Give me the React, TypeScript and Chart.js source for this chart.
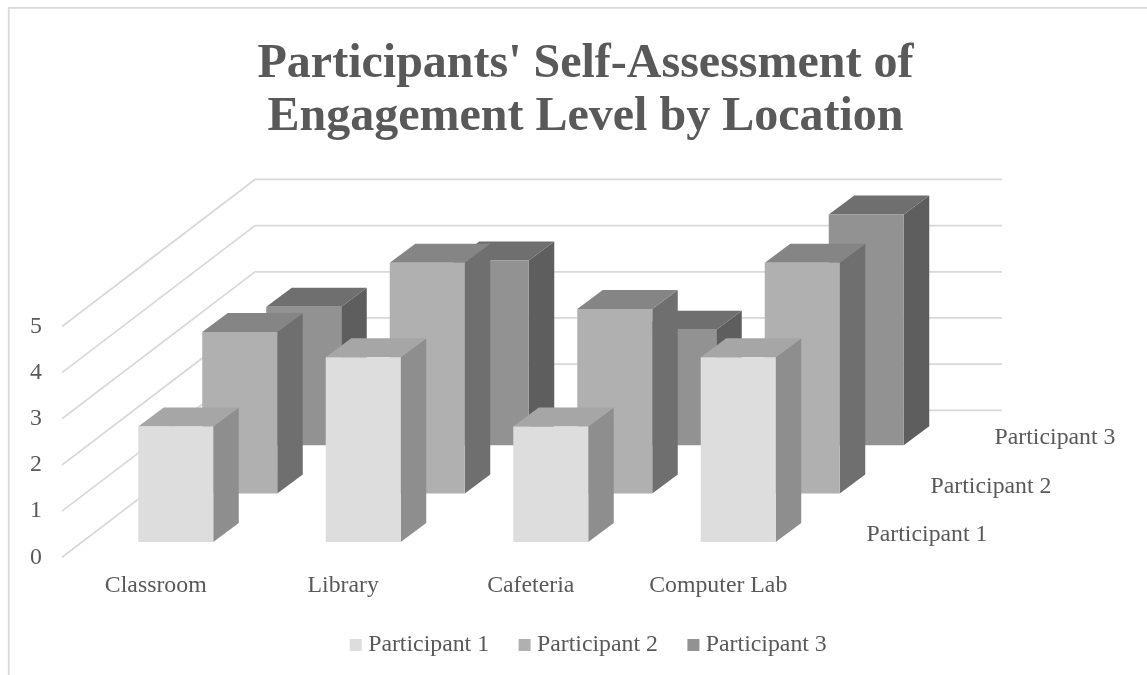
import React, { useEffect, useRef } from "react";
import { Chart, registerables } from "chart.js";

Chart.register(...registerables);

const titleLines = ["Participants' Self-Assessment of", "Engagement Level by Location"];
const categories = ["Classroom", "Library", "Cafeteria", "Computer Lab"];
const participant1 = [2.5, 4, 2.5, 4];
const participant2 = [3.5, 5, 4, 5];
const participant3 = [3, 4, 2.5, 5];
const seriesNames = ["Participant 1", "Participant 2", "Participant 3"];
const yTicks = [0, 1, 2, 3, 4, 5];

const frontColors = ["#dddddd", "#b0b0b0", "#929292"];
const sideColors = ["#8e8e8e", "#6f6f6f", "#5e5e5e"];
const topColors = ["#a6a6a6", "#858585", "#6f6f6f"];

const FONT = "'Liberation Serif'";
const TEXT = "#595959";
const GRID = "#d9d9d9";
const LABEL_SIZE = 23.8;
const PAD_BOTTOM = 8;

// 3D projection (px)
const DEPTH_X = 64;
const DEPTH_Y = 48.4;
const FRONT_X = 20;
const FRONT_Y = 15.3;
const BAR_DX = 25.5;
const BAR_DY = 19;
const FLOOR_X = 193;
const FLOOR_Y = 147;
const WALL_RIGHT = 190;

const frame3d = {
  id: "frame3d",
  afterLayout(chart: any) {
    // centre the legend a little right of the title; keep tick descenders out of the axis clip
    chart.legend.left += 5.5;
    chart.legend.right += 5.5;
    chart.scales.x.bottom += 14;
  },
  beforeDraw(chart: any) {
    const { ctx } = chart;
    ctx.save();
    ctx.strokeStyle = GRID;
    ctx.lineWidth = 1.75;
    ctx.beginPath();
    ctx.moveTo(8.75, 680);
    ctx.lineTo(8.75, 7.75);
    ctx.lineTo(1150, 7.75);
    ctx.stroke();
    ctx.restore();
  },
  beforeDatasetsDraw(chart: any) {
    const { ctx } = chart;
    const xs = chart.scales.x;
    const ys = chart.scales.y;
    ctx.save();
    ctx.strokeStyle = GRID;
    ctx.lineWidth = 1.75;
    yTicks.forEach((t) => {
      const py = ys.getPixelForValue(t);
      ctx.beginPath();
      ctx.moveTo(xs.left, py);
      ctx.lineTo(xs.left + FLOOR_X, py - FLOOR_Y);
      ctx.lineTo(xs.right + WALL_RIGHT, py - FLOOR_Y);
      ctx.stroke();
    });
    // depth-axis labels
    ctx.fillStyle = TEXT;
    ctx.font = `${LABEL_SIZE}px ${FONT}`;
    ctx.textAlign = "center";
    ctx.textBaseline = "middle";
    seriesNames.forEach((name, i) => {
      ctx.fillText(name, xs.right + 115 + i * DEPTH_X, ys.getPixelForValue(0) - 22.5 - i * DEPTH_Y);
    });
    ctx.restore();
  },
  beforeDatasetDraw(chart: any, args: any) {
    const { ctx } = chart;
    const i = args.index;
    ctx.save();
    ctx.translate(FRONT_X + i * DEPTH_X, -FRONT_Y - i * DEPTH_Y);
    args.meta.data.forEach((el: any) => {
      const { x, y, base, width } = el.getProps(["x", "y", "base", "width"], true);
      const l = x - width / 2;
      const r = x + width / 2;
      ctx.fillStyle = sideColors[i];
      ctx.beginPath();
      ctx.moveTo(r, y);
      ctx.lineTo(r + BAR_DX, y - BAR_DY);
      ctx.lineTo(r + BAR_DX, base - BAR_DY);
      ctx.lineTo(r, base);
      ctx.closePath();
      ctx.fill();
      ctx.fillStyle = topColors[i];
      ctx.beginPath();
      ctx.moveTo(l, y);
      ctx.lineTo(l + BAR_DX, y - BAR_DY);
      ctx.lineTo(r + BAR_DX, y - BAR_DY);
      ctx.lineTo(r, y);
      ctx.closePath();
      ctx.fill();
    });
  },
  afterDatasetDraw(chart: any) {
    chart.ctx.restore();
  },
};

export default function App() {
  const ref = useRef<HTMLCanvasElement>(null);
  useEffect(() => {
    document.body.style.margin = "0";
    const chart = new Chart(ref.current as HTMLCanvasElement, {
      type: "bar",
      plugins: [frame3d],
      data: {
        labels: categories,
        datasets: [participant1, participant2, participant3].map((data, i) => ({
          label: seriesNames[i],
          data,
          backgroundColor: frontColors[i],
          borderWidth: 0,
          clip: false,
          barPercentage: 1,
          categoryPercentage: 0.4,
          grouped: false,
        })),
      } as any,
      options: {
        animation: false,
        responsive: false,
        layout: { padding: { left: 24, right: 0, top: 0, bottom: PAD_BOTTOM } },
        plugins: {
          tooltip: { enabled: false },
          title: {
            display: true,
            text: titleLines,
            color: TEXT,
            font: { family: FONT, size: 48, weight: "bold", lineHeight: 1.104 },
            padding: { top: 38, bottom: 182.5 },
          },
          legend: {
            position: "bottom",
            labels: {
              color: TEXT,
              font: { family: FONT, size: LABEL_SIZE },
              usePointStyle: true,
              pointStyle: "rect",
              boxWidth: 1,
              boxHeight: 12,
              padding: 35,
            },
          },
        },
        scales: {
          x: {
            grid: { display: false, drawTicks: false },
            border: { display: false },
            ticks: {
              color: TEXT,
              font: { family: FONT, size: LABEL_SIZE },
              padding: 14,
              autoSkip: false,
              maxRotation: 0,
            },
            afterFit(s: any) {
              s.height = 675 - 557.3 - (s.chart.legend?.height ?? 60) - PAD_BOTTOM;
            },
          },
          y: {
            min: 0,
            max: 5,
            grid: { display: false, drawTicks: false },
            border: { display: false },
            ticks: {
              stepSize: 1,
              color: TEXT,
              font: { family: FONT, size: LABEL_SIZE },
              padding: 20,
            },
            afterFit(s: any) {
              s.width = 38;
            },
          },
          spacer: {
            type: "linear",
            position: "right",
            grid: { display: false, drawTicks: false },
            border: { display: false },
            ticks: { display: false },
            afterFit(s: any) {
              s.width = 335;
            },
          },
        },
      } as any,
    });
    return () => chart.destroy();
  }, []);
  return <canvas ref={ref} width={1147} height={675} style={{ display: "block" }} />;
}
